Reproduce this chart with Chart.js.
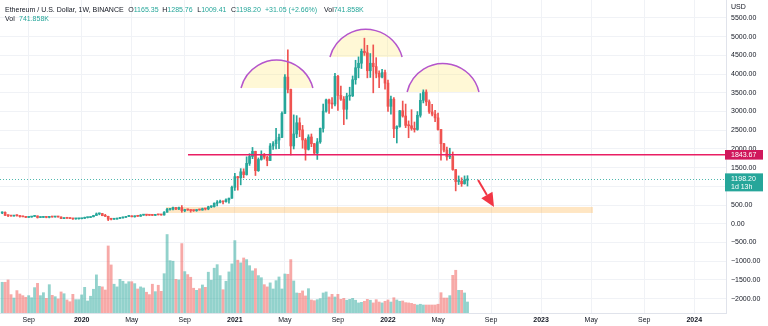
<!DOCTYPE html>
<html>
<head>
<meta charset="utf-8">
<script src="https://cdn.jsdelivr.net/npm/chart.js@4.4.0/dist/chart.umd.min.js"></script>
<style>
html, body { margin: 0; padding: 0; background: #fff; }
canvas { display: block; }
</style>
</head>
<body>
<canvas id="chart" width="768" height="326"></canvas>
<script>
// weekly ETH/USDT candles, week of 2019-07-01 .. week of 2022-07-11 (index = week number)
const opens = [
  290,307,228,220,207,222,216,195,187,172,181,197,211,169,171,187,172,184,182,189,183,140,149,148,142,132,134,
  136,146,166,168,189,223,265,274,218,200,123,122,125,143,158,171,197,207,187,207,201,231,245,232,228,226,241,240,236,310,386,391,433,395,435,353,381,371,355,353,377,368,405,397,455,460,550,575,600,590,640,685,
  975,1260,1230,1390,1315,1615,1800,1935,1420,1720,1850,1780,1690,2080,2140,2240,2310,2950,3920,3590,2080,2400,2700,2510,2240,1990,2320,2140,1890,2190,2550,3010,3310,3220,3200,3940,3430,3330,3060,3410,3420,3850,4170,4290,4610,4570,4090,4290,4200,4020,3920,4040,
  3760,3140,3330,2540,2600,3020,2880,2630,2620,2550,2520,2900,3300,3520,3260,2990,2930,2830,2520,2140,1970,1790,1800,1450,1130,1140,1070,1165.35
];
const highs = [
  320,317,232,225,226,238,217,204,195,185,200,224,212,184,199,189,198,191,196,190,184,157,152,151,143,135,140,
  148,180,172,190,228,290,288,280,253,204,140,140,150,176,180,198,227,215,214,216,248,253,250,238,248,242,250,246,325,415,400,446,443,445,488,388,395,378,370,380,395,420,412,470,480,560,622,637,603,670,690,1010,
  1350,1270,1475,1470,1790,1875,2040,1940,1760,1950,1880,1810,2145,2200,2550,2400,2990,3990,4650,3600,2910,2890,2830,2630,2280,2380,2400,2150,2280,2560,3200,3330,3330,3370,4020,3970,3680,3400,3490,3650,3950,4370,4460,4670,4960,4770,4550,4780,4440,4090,4130,4110,
  3840,3410,3370,2620,3030,3280,3200,2750,3050,2720,3000,3480,3580,3580,3310,3190,3030,2960,2520,2150,2050,2020,1920,1450,1280,1230,1280,1285.76
];
const lows = [
  270,220,188,201,206,206,180,186,165,168,176,195,153,166,168,160,158,176,179,180,139,137,141,139,117,122,125,
  132,142,155,165,184,220,240,215,195,86,107,119,124,140,148,168,192,186,178,195,199,226,215,222,219,220,236,230,233,310,366,370,376,378,308,322,357,310,330,333,365,363,370,375,432,446,480,560,530,580,550,680,
  890,900,1040,1230,1300,1560,1740,1290,1400,1700,1730,1550,1690,1990,2000,2010,2300,2950,3500,1840,2000,2300,2330,2020,1700,1970,2060,1850,1720,2150,2450,2980,2950,3080,3150,3030,3300,2650,2800,3300,3400,3730,3900,4150,4500,3900,3910,3500,3900,3640,3900,3600,
  3000,2930,2300,2160,2580,2850,2570,2300,2500,2450,2500,2850,3230,3160,2950,2880,2730,2500,1700,1920,1700,1740,1430,880,1050,1000,1060,1009.41
];
const closes = [
  307,228,220,207,222,216,195,187,172,181,197,211,169,171,187,172,184,182,189,183,140,149,148,142,132,134,136,
  146,166,168,189,223,265,274,218,200,123,122,125,143,158,171,197,207,187,207,201,231,245,232,228,226,241,240,236,310,386,391,433,395,435,353,381,371,355,353,377,368,405,397,455,460,550,575,600,590,640,685,975,
  1260,1230,1390,1315,1615,1800,1935,1420,1720,1850,1780,1690,2080,2140,2240,2310,2950,3920,3590,2080,2400,2700,2510,2240,1990,2320,2140,1890,2190,2550,3010,3310,3220,3200,3940,3430,3330,3060,3410,3420,3850,4170,4290,4610,4570,4090,4290,4200,4020,3920,4040,3760,
  3140,3330,2540,2600,3020,2880,2630,2620,2550,2520,2900,3300,3520,3260,2990,2930,2830,2520,2140,1970,1790,1800,1450,1130,1140,1070,1167.15,1198.20
];
// volume in thousands of ETH
const volumes = [
  2070,2070,2230,1240,1010,1510,1280,1170,1060,1170,
  1030,1710,2000,1170,1370,990,1910,1190,1100,950,
  1420,1300,880,760,1260,900,900,1220,1730,810,
  1130,1600,2570,1800,1760,1550,4520,3240,1940,1760,
  2270,2140,1960,2110,2110,1980,1620,1760,1690,1400,
  1240,1940,1440,1870,1460,2650,5290,3530,3490,2270,
  2230,4680,2790,2590,2410,1670,1530,1640,1890,1730,
  2750,2210,3020,3260,2520,1570,2140,2770,3310,4880,
  3560,3380,3710,3600,3190,2840,2990,2520,2380,1910,
  1760,2030,1620,2180,2430,1620,2630,2610,3600,2160,
  1350,1330,1490,1150,1640,880,830,900,970,1350,
  1420,1080,1260,1080,1260,920,990,860,920,990,
  860,680,720,790,920,860,680,900,740,680,
  790,880,740,1030,880,790,810,700,680,650,
  590,540,590,540,540,540,540,540,590,1370,
  1010,1010,1170,2540,2880,1530,1530,1350,741.858
];

// time axis: week index of first bar of each labelled month
const tickWeeks = [9, 27, 44, 62, 79, 96, 114, 131, 148, 166, 183, 200, 218, 235];
const tickLabels = ['Sep', '2020', 'May', 'Sep', '2021', 'May', 'Sep', '2022', 'May', 'Sep', '2023', 'May', 'Sep', '2024'];
const priceTicks = [-2000, -1500, -1000, -500, 0, 500, 1000, 1500, 2000, 2500, 3000, 3500, 4000, 4500, 5000, 5500];

// drawings (week index, price)
const supportZone = { from: 55.6, to: 200.6, low: 290, high: 450 };
const neckline = { from: 63.1, price: 1843.67 };
const arcs = [
  { from: 81.1, to: 105.5, base: 3628, top: 4376 },
  { from: 111.3, to: 135.8, base: 4456, top: 5196 },
  { from: 137.5, to: 161.9, base: 3521, top: 4283 }
];
const arrow = { from: [161.6, 1170], to: [167.0, 448] };

const upColor = '#26a69a';
const downColor = '#ef5350';
const textColor = '#131722';
const gridColor = '#f0f2f6';
const axisColor = '#e0e3eb';

const weeks = opens.map((o, i) => i);
const isUp = weeks.map(i => closes[i] >= opens[i]);
const candleColors = weeks.map(i => isUp[i] ? upColor : downColor);
const volumeColors = weeks.map(i => isUp[i] ? 'rgba(38,166,154,0.5)' : 'rgba(239,83,80,0.5)');

function fmtPrice(v) {
    return v < 0 ? '\u2212' + Math.abs(v).toFixed(2) : v.toFixed(2);
}

const overlay = {
    id: 'overlay',
    beforeDatasetsDraw(chart) {
        const {ctx, chartArea: a, scales: {x, y}} = chart;
        ctx.save();
        ctx.beginPath();
        ctx.rect(a.left, a.top, a.width, a.height);
        ctx.clip();
        // support zone
        let x0 = x.getPixelForValue(supportZone.from), x1 = x.getPixelForValue(supportZone.to);
        let y0 = y.getPixelForValue(supportZone.high), y1 = y.getPixelForValue(supportZone.low);
        ctx.fillStyle = 'rgba(255,167,38,0.28)';
        ctx.fillRect(x0, y0, x1 - x0, y1 - y0);
        // arc fills
        arcs.forEach(arc => {
            let g = arcGeometry(arc, x, y);
            ctx.beginPath();
            ctx.arc(g.cx, g.cy, g.r, g.start, g.end, false);
            ctx.closePath();
            ctx.fillStyle = 'rgba(255,232,120,0.3)';
            ctx.fill();
        });
        ctx.restore();
    },
    afterDatasetsDraw(chart) {
        const {ctx, chartArea: a, scales: {x, y}} = chart;
        ctx.save();
        ctx.beginPath();
        ctx.rect(a.left, a.top, a.width, a.height);
        ctx.clip();
        // last price dotted line
        let lp = y.getPixelForValue(closes[closes.length - 1]);
        ctx.strokeStyle = 'rgba(38,166,154,0.8)';
        ctx.lineWidth = 1;
        ctx.setLineDash([1, 2]);
        ctx.beginPath();
        ctx.moveTo(a.left, Math.round(lp) + 0.5);
        ctx.lineTo(a.right, Math.round(lp) + 0.5);
        ctx.stroke();
        ctx.setLineDash([]);
        // neckline
        let ny = y.getPixelForValue(neckline.price);
        ctx.strokeStyle = '#e91e63';
        ctx.lineWidth = 1.5;
        ctx.beginPath();
        ctx.moveTo(x.getPixelForValue(neckline.from), ny);
        ctx.lineTo(a.right, ny);
        ctx.stroke();
        // arcs
        arcs.forEach(arc => {
            let g = arcGeometry(arc, x, y);
            ctx.beginPath();
            ctx.arc(g.cx, g.cy, g.r, g.start, g.end, false);
            ctx.strokeStyle = '#b455cc';
            ctx.lineWidth = 1.5;
            ctx.stroke();
        });
        // arrow
        let ax0 = x.getPixelForValue(arrow.from[0]), ay0 = y.getPixelForValue(arrow.from[1]);
        let ax1 = x.getPixelForValue(arrow.to[0]), ay1 = y.getPixelForValue(arrow.to[1]);
        let ang = Math.atan2(ay1 - ay0, ax1 - ax0);
        let headLen = 14, headW = 6.5;
        let bx = ax1 - headLen * Math.cos(ang), by = ay1 - headLen * Math.sin(ang);
        ctx.strokeStyle = '#f23645';
        ctx.fillStyle = '#f23645';
        ctx.lineWidth = 2;
        ctx.beginPath();
        ctx.moveTo(ax0, ay0);
        ctx.lineTo(bx, by);
        ctx.stroke();
        ctx.beginPath();
        ctx.moveTo(ax1, ay1);
        ctx.lineTo(bx - headW * Math.sin(ang), by + headW * Math.cos(ang));
        ctx.lineTo(bx + headW * Math.sin(ang), by - headW * Math.cos(ang));
        ctx.closePath();
        ctx.fill();
        ctx.restore();
    },
    afterDraw(chart) {
        const {ctx, chartArea: a, scales: {y}} = chart;
        const last = closes.length - 1;
        ctx.save();
        ctx.font = '7px "Liberation Sans", Arial, sans-serif';
        ctx.textBaseline = 'middle';
        // price tags on the axis
        let ny = y.getPixelForValue(neckline.price);
        ctx.fillStyle = '#d0185c';
        ctx.fillRect(a.right - 1, ny - 4.8, 38, 9.6);
        ctx.fillStyle = '#fff';
        ctx.fillText(neckline.price.toFixed(2), a.right + 5, ny + 0.3);
        let lp = y.getPixelForValue(closes[last]);
        ctx.fillStyle = upColor;
        ctx.fillRect(a.right - 1, lp - 5.6, 38, 18);
        ctx.fillStyle = '#fff';
        ctx.fillText(closes[last].toFixed(2), a.right + 5, lp);
        ctx.fillText('1d 13h', a.right + 5, lp + 8.2);
        // currency
        ctx.fillStyle = '#fff';
        ctx.fillRect(a.right + 1, 2, 40, 9);
        ctx.fillStyle = textColor;
        ctx.fillText('USD', a.right + 5, 7);
        // legend
        let chg = closes[last] - closes[last - 1];
        let pct = chg / closes[last - 1] * 100;
        let vol = volumes[last].toFixed(3) + 'K';
        let groups = [
            [5, [['Ethereum / U.S. Dollar, 1W, BINANCE', textColor]]],
            [128.3, [['O', textColor], [opens[last].toFixed(2), upColor]]],
            [162.3, [['H', textColor], [highs[last].toFixed(2), upColor]]],
            [197.3, [['L', textColor], [lows[last].toFixed(2), upColor]]],
            [231, [['C', textColor], [closes[last].toFixed(2), upColor]]],
            [265, [['+' + chg.toFixed(2) + ' (+' + pct.toFixed(2) + '%)', upColor]]],
            [324, [['Vol', textColor], [vol, upColor]]]
        ];
        groups.forEach(g => drawParts(ctx, g[0], 10, g[1]));
        drawParts(ctx, 5, 19.5, [['Vol', textColor]]);
        drawParts(ctx, 19, 19.5, [[vol, upColor]]);
        ctx.restore();
    }
};

function arcGeometry(arc, x, y) {
    let x1 = x.getPixelForValue(arc.from), x2 = x.getPixelForValue(arc.to);
    let yb = y.getPixelForValue(arc.base), yt = y.getPixelForValue(arc.top);
    let half = (x2 - x1) / 2, s = yb - yt;
    let r = (half * half + s * s) / (2 * s);
    let cx = (x1 + x2) / 2, cy = yt + r;
    return {cx: cx, cy: cy, r: r, start: Math.atan2(yb - cy, x1 - cx), end: Math.atan2(yb - cy, x2 - cx)};
}

function drawParts(ctx, x, y, parts) {
    parts.forEach(p => {
        ctx.fillStyle = p[1];
        ctx.fillText(p[0], x, y);
        x += ctx.measureText(p[0]).width;
    });
}

Chart.defaults.font.family = '"Liberation Sans", Arial, sans-serif';
Chart.defaults.font.size = 7;
Chart.defaults.color = textColor;

new Chart(document.getElementById('chart'), {
    type: 'bar',
    data: {
        datasets: [{
            label: 'Volume',
            data: weeks.map(i => ({x: i, y: volumes[i]})),
            yAxisID: 'yv',
            backgroundColor: volumeColors,
            barThickness: 2.2,
            grouped: false,
            order: 3
        }, {
            label: 'Wick',
            data: weeks.map(i => ({x: i, y: [lows[i], highs[i]]})),
            yAxisID: 'y',
            backgroundColor: candleColors,
            barThickness: 1,
            grouped: false,
            order: 2
        }, {
            label: 'Body',
            data: weeks.map(i => ({x: i, y: [Math.min(opens[i], closes[i]), Math.max(opens[i], closes[i])]})),
            yAxisID: 'y',
            backgroundColor: candleColors,
            barThickness: 2,
            minBarLength: 1,
            grouped: false,
            order: 1
        }]
    },
    options: {
        responsive: false,
        animation: false,
        devicePixelRatio: 1,
        layout: { padding: 0 },
        plugins: {
            legend: { display: false },
            tooltip: { enabled: false }
        },
        scales: {
            x: {
                type: 'linear',
                position: 'bottom',
                min: -0.74,
                max: 245.78,
                offset: false,
                grid: { color: gridColor, drawTicks: false, offset: false },
                border: { color: axisColor },
                ticks: {
                    autoSkip: false,
                    maxRotation: 0,
                    padding: 3,
                    color: textColor,
                    callback: v => {
                        let k = tickWeeks.indexOf(v);
                        return k >= 0 ? tickLabels[k] : '';
                    },
                    font: c => {
                        let k = c.tick ? tickWeeks.indexOf(c.tick.value) : -1;
                        let year = k >= 0 && /^\d{4}$/.test(tickLabels[k]);
                        return { size: 7, weight: year ? 'bold' : 'normal' };
                    }
                },
                afterBuildTicks: s => { s.ticks = tickWeeks.map(v => ({value: v})); },
                afterFit: s => { s.height = 13; s.paddingLeft = 0; s.paddingRight = 0; }
            },
            y: {
                position: 'right',
                min: -2383,
                max: 5980,
                grid: { color: gridColor, drawTicks: false },
                border: { color: axisColor },
                ticks: {
                    autoSkip: false,
                    padding: 5,
                    color: textColor,
                    callback: v => fmtPrice(v)
                },
                afterBuildTicks: s => { s.ticks = priceTicks.map(v => ({value: v})); },
                afterFit: s => { s.width = 42; s.paddingTop = 0; s.paddingBottom = 0; }
            },
            yv: {
                display: false,
                min: 0,
                max: 21100
            }
        }
    },
    plugins: [overlay]
});
</script>
</body>
</html>
